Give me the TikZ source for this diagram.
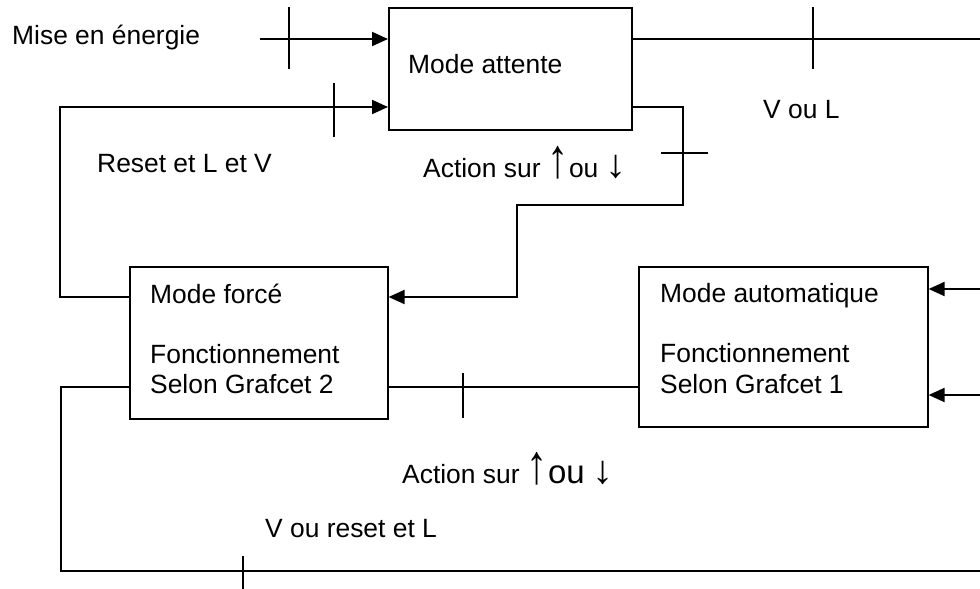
\documentclass[tikz,border=0pt]{standalone}
\usepackage{fontspec}
\setmainfont{Liberation Sans}
\usetikzlibrary{arrows.meta}
\newcommand{\upglyph}{\scalebox{1.6}[2.1]{↑}}
\newcommand{\downglyph}{\scalebox{1.6}[1.5]{↓}}
\begin{document}
\begin{tikzpicture}[x=1pt,y=-1pt,
  every node/.style={font=\fontsize{26.4}{30}\selectfont},
  modebox/.style={draw, line width=1.6pt, inner sep=0pt, anchor=north west},
  lbl/.style={inner sep=0pt, anchor=base west},
  thickline/.style={line width=2pt},
  thinline/.style={line width=1.3pt},
  arr/.style={line width=2pt, -{Triangle[length=16pt,width=14pt]}},
  tickmark/.style={line width=1.5pt}]
\useasboundingbox (0,0) rectangle (980,589);

% the three operating modes
\node[modebox, minimum width=243pt, minimum height=122pt] (att) at (388,7) {};
\node[modebox, minimum width=258pt, minimum height=152pt] (forc) at (129,266) {};
\node[modebox, minimum width=289pt, minimum height=160pt] (auto) at (638,266) {};

\node[lbl] (attT) at (408,73) {Mode attente};
\node[lbl] (forcT1) at (150,303) {Mode forcé};
\node[lbl] (forcT2) at (150,363) {Fonctionnement};
\node[lbl] (forcT3) at (150,393) {Selon Grafcet 2};
\node[lbl] (autoT1) at (660,302) {Mode automatique};
\node[lbl] (autoT2) at (660,362) {Fonctionnement};
\node[lbl] (autoT3) at (660,393) {Selon Grafcet 1};

% transition labels
\node[lbl] (tMise) at (12,44) {Mise en énergie};
\node[lbl] (tReset) at (97,172) {Reset et L et V};
\node[lbl] (tAct1) at (423,177) {Action sur \upglyph ou \downglyph};
\node[lbl] (tVL) at (763,118) {V ou L};
\node[lbl] (tAct2) at (402,483) {Action sur \upglyph{\fontsize{33}{36}\selectfont ou} \downglyph};
\node[lbl] (tVreset) at (265,537) {V ou reset et L};

% bends and free ends of the links
\coordinate (mise) at (260,39);
\coordinate (r1) at (60,297);
\coordinate (r2) at (60,107);
\coordinate (a1) at (683,107);
\coordinate (a2) at (683,205);
\coordinate (a3) at (517,205);
\coordinate (a4) at (517,297);
\coordinate (outTop) at (980,39);
\coordinate (inAuto1) at (980,289);
\coordinate (inAuto2) at (980,395);
\coordinate (mid) at (500,387);
\coordinate (b1) at (61,387);
\coordinate (b2) at (61,571);
\coordinate (outBot) at (980,571);

% links
\draw[arr] (mise) -- (att.west |- mise);
\draw[arr] (forc.west |- r1) -- (r1) -- (r2) -- (att.west |- r2);
\draw[arr] (att.east |- a1) -- (a1) -- (a2) -- (a3) -- (a4) -- (forc.east |- a4);
\draw[thinline] (att.east |- outTop) -- (outTop);
\draw[arr] (inAuto1) -- (auto.east |- inAuto1);
\draw[arr] (inAuto2) -- (auto.east |- inAuto2);
\draw[thinline] (forc.east |- mid) -- (auto.west |- mid);
\draw[thinline] (forc.west |- b1) -- (b1) -- (b2) -- (outBot);

% transition ticks
\draw[tickmark] (289,7) -- (289,69);
\draw[tickmark] (334,83) -- (334,137);
\draw[tickmark] (661,153) -- (708,153);
\draw[tickmark] (813,7) -- (813,69);
\draw[tickmark] (463,373) -- (463,418);
\draw[tickmark] (243,556) -- (243,589);
\end{tikzpicture}
\end{document}
